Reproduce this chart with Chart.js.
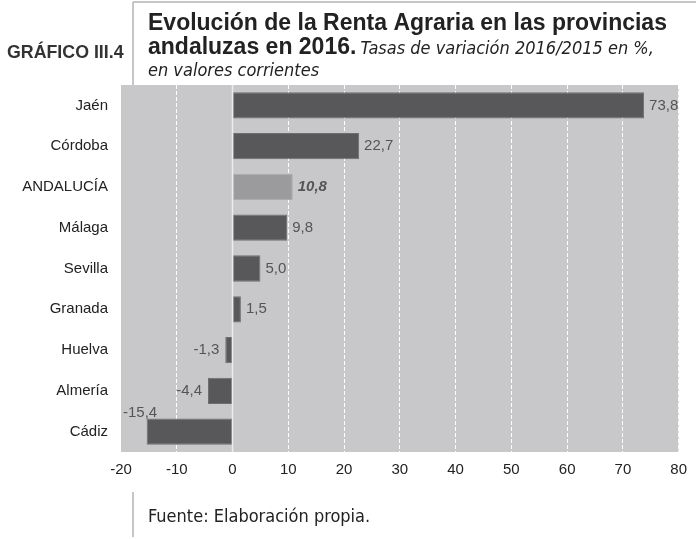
<!DOCTYPE html>
<html lang="es">
<head>
<meta charset="utf-8">
<title>Evolución de la Renta Agraria en las provincias andaluzas en 2016</title>
<script src="https://cdn.jsdelivr.net/npm/chart.js@4/dist/chart.umd.min.js"></script>
<style>
  html, body { margin: 0; padding: 0; background: #ffffff; }
  #wrap { position: relative; width: 696px; height: 539px; }
  canvas { display: block; }
</style>
</head>
<body>
<div id="wrap"><canvas id="chart" width="696" height="539"></canvas></div>
<script>
// Provincias andaluzas y tasa de variación 2016/2015 (%) de la Renta Agraria
const categories = ['Jaén', 'Córdoba', 'ANDALUCÍA', 'Málaga', 'Sevilla', 'Granada', 'Huelva', 'Almería', 'Cádiz'];
const rates = [73.8, 22.7, 10.8, 9.8, 5.0, 1.5, -1.3, -4.4, -15.4];
const axisTicks = [-20, -10, 0, 10, 20, 30, 40, 50, 60, 70, 80];
const totalLabel = 'ANDALUCÍA';

const chartLabel = 'GRÁFICO III.4';
const titleLine1 = 'Evolución de la Renta Agraria en las provincias';
const titleLine2 = 'andaluzas en 2016.';
const subtitleA = 'Tasas de variación 2016/2015 en %,';
const subtitleB = 'en valores corrientes';
const sourceNote = 'Fuente: Elaboración propia.';

const SANS = '"Liberation Sans", Arial, sans-serif';
const COND = '"DejaVu Sans Condensed", "DejaVu Sans", sans-serif';

const fmt = v => v.toFixed(1).replace('.', ',');

// Fondo gris del área de trazado
const plotBackground = {
  id: 'plotBackground',
  beforeDraw(chart) {
    const { ctx, chartArea: a } = chart;
    ctx.save();
    ctx.fillStyle = '#c8c8ca';
    ctx.fillRect(a.left, a.top, a.right - a.left, a.bottom - a.top);
    ctx.restore();
  }
};

// Cabecera, pie y filetes
const frameText = {
  id: 'frameText',
  afterDraw(chart) {
    const ctx = chart.ctx;
    ctx.save();
    ctx.strokeStyle = '#b4b4b4';
    ctx.lineWidth = 1.5;
    ctx.beginPath();
    ctx.moveTo(133, 2); ctx.lineTo(696, 2);
    ctx.moveTo(133, 2); ctx.lineTo(133, 85);
    ctx.moveTo(133, 492); ctx.lineTo(133, 537);
    ctx.stroke();

    ctx.textBaseline = 'alphabetic';
    ctx.textAlign = 'left';
    ctx.fillStyle = '#333333';
    ctx.font = 'bold 17.8px ' + SANS;
    ctx.fillText(chartLabel, 7, 58);

    ctx.fillStyle = '#222222';
    ctx.font = 'bold 23px ' + SANS;
    ctx.fillText(titleLine1, 148, 29.5);
    ctx.fillText(titleLine2, 148, 54);
    const w2 = ctx.measureText(titleLine2).width;

    ctx.font = 'italic 18px ' + COND;
    ctx.fillText(subtitleA, 148 + w2 + 4, 54);
    ctx.fillText(subtitleB, 148, 76);

    ctx.font = '18px ' + COND;
    ctx.fillText(sourceNote, 148, 521.5);
    ctx.restore();
  }
};

// Línea del cero y rótulos de valor
const valueLabels = {
  id: 'valueLabels',
  afterDatasetsDraw(chart) {
    const { ctx, chartArea: a } = chart;
    const xs = chart.scales.x;
    const x0 = xs.getPixelForValue(0);
    ctx.save();
    ctx.strokeStyle = '#ececec';
    ctx.lineWidth = 1.5;
    ctx.beginPath();
    ctx.moveTo(x0, a.top);
    ctx.lineTo(x0, a.bottom);
    ctx.stroke();

    const meta = chart.getDatasetMeta(0);
    ctx.textBaseline = 'middle';
    ctx.fillStyle = '#555555';
    meta.data.forEach((el, i) => {
      const v = rates[i];
      const txt = fmt(v);
      ctx.font = (categories[i] === totalLabel ? 'italic bold ' : '') + '15px ' + SANS;
      const w = ctx.measureText(txt).width;
      let x = el.x, y = el.y;
      if (v >= 0) {
        ctx.textAlign = 'left';
        x = el.x + 5;
      } else if (el.x - 6 - w < a.left) {
        ctx.textAlign = 'left';
        x = a.left + 2;
        y = el.y - 19;
      } else {
        ctx.textAlign = 'right';
        x = el.x - 6;
      }
      ctx.fillText(txt, x, y);
    });
    ctx.restore();
  }
};

new Chart(document.getElementById('chart'), {
  type: 'bar',
  data: {
    labels: categories,
    datasets: [{
      data: rates,
      backgroundColor: categories.map(c => c === totalLabel ? '#9b9b9d' : '#58585a'),
      borderColor: categories.map(c => c === totalLabel ? '#acacae' : '#6e6e70'),
      borderWidth: 1,
      borderSkipped: false,
      categoryPercentage: 1,
      barPercentage: 0.645
    }]
  },
  options: {
    indexAxis: 'y',
    responsive: false,
    animation: false,
    devicePixelRatio: 1,
    layout: { padding: { top: 85, right: 17, left: 0, bottom: 0 } },
    plugins: { legend: { display: false }, tooltip: { enabled: false }, title: { display: false } },
    scales: {
      x: {
        min: axisTicks[0],
        max: axisTicks[axisTicks.length - 1],
        ticks: {
          stepSize: axisTicks[1] - axisTicks[0],
          color: '#222222',
          font: { family: SANS, size: 15 },
          padding: 9,
          callback: v => String(v)
        },
        grid: {
          drawTicks: false,
          lineWidth: 1,
          color: ctx => (ctx.tick && (ctx.tick.value === 0 || ctx.tick.value === axisTicks[0])) ? 'rgba(0,0,0,0)' : '#ffffff'
        },
        border: { display: false, dash: [4, 2] },
        afterFit: s => { s.height = 87; }
      },
      y: {
        ticks: {
          color: '#222222',
          font: { family: SANS, size: 15 },
          padding: 13
        },
        grid: { display: false, drawTicks: false },
        border: { display: false },
        afterFit: s => { s.width = 121; }
      }
    }
  },
  plugins: [plotBackground, valueLabels, frameText]
});
</script>
</body>
</html>
